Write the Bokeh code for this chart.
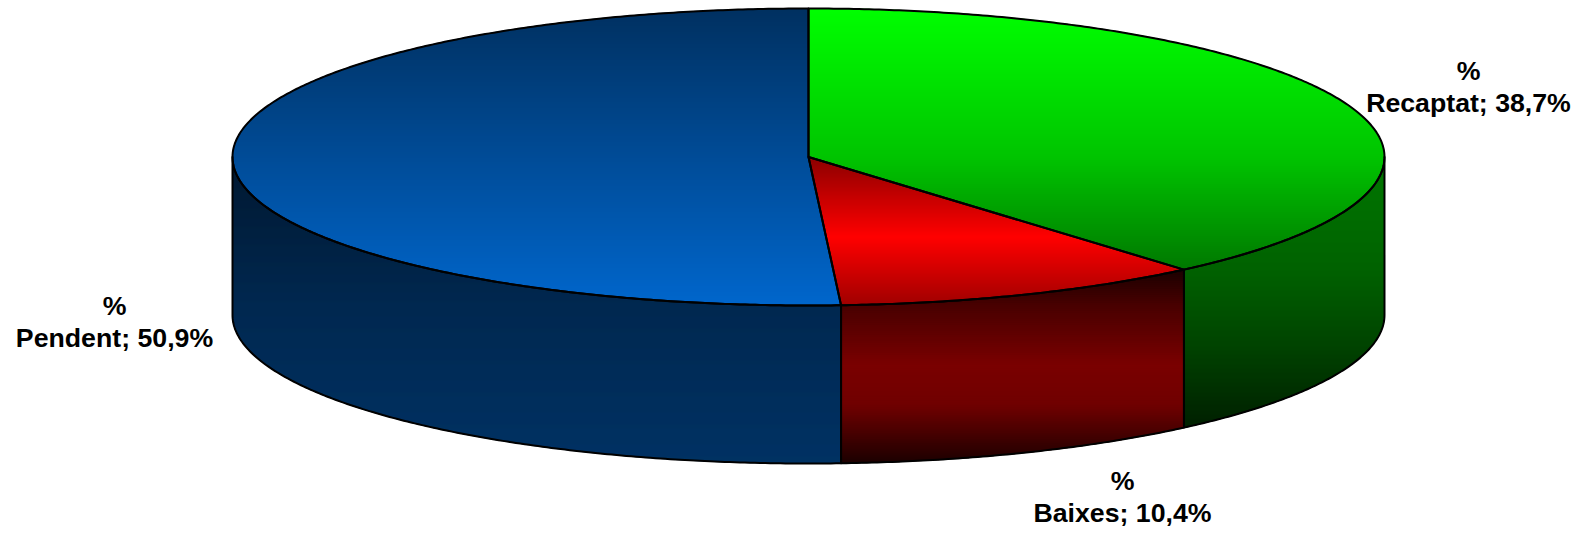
import numpy as np
from bokeh.plotting import figure
from bokeh.models import Range1d, ColumnDataSource
from bokeh.embed import file_html
from bokeh.resources import INLINE
from bokeh.core.properties import value

# ---------------- data ----------------
categories = ["Recaptat", "Baixes", "Pendent"]
shares = [38.7, 10.4, 50.9]
label_prefix = "%"

# ---------------- styling / layout ----------------
# gradient stops (absolute y in pixels, colour) for top and side faces
TOP_STOPS = {
    "Recaptat": [(8, "#00ff00"), (157, "#00c400"), (270, "#007800")],
    "Baixes": [(157, "#8b0000"), (237, "#ff0000"), (305, "#a00000")],
    "Pendent": [(8, "#003060"), (160, "#004c98"), (305, "#0066cc")],
}
SIDE_STOPS = {
    "Recaptat": [(157, "#007800"), (270, "#006200"), (340, "#004600"), (427, "#002000")],
    "Baixes": [(269, "#1a0000"), (305, "#480000"), (365, "#7a0000"), (405, "#700000"), (463, "#1c0000")],
    "Pendent": [(157, "#001830"), (305, "#002850"), (464, "#003264")],
}
LABEL_POS = {"Recaptat": (1468, 70), "Baixes": (1122, 480), "Pendent": (114, 305)}
LINE_GAP = 32

CX, CY, RX, RY, DEPTH = 808.0, 156.5, 576.0, 148.5, 158.0
W, H = 1583, 535


def rim(a, dy=0.0):
    return CX + RX * np.sin(a), CY - RY * np.cos(a) + dy


def arc(a0, a1, dy=0.0):
    n = max(4, int(abs(a1 - a0) / (2 * np.pi) * 720))
    t = np.linspace(a0, a1, n)
    x, y = rim(t, dy)
    return list(zip(x, y))


def hex2rgb(h):
    h = h.lstrip("#")
    return np.array([int(h[i:i + 2], 16) for i in (0, 2, 4)], dtype=float)


def grad_color(stops, y):
    ys = [s[0] for s in stops]
    cs = [hex2rgb(s[1]) for s in stops]
    if y <= ys[0]:
        c = cs[0]
    elif y >= ys[-1]:
        c = cs[-1]
    else:
        for i in range(len(ys) - 1):
            if ys[i] <= y <= ys[i + 1]:
                f = (y - ys[i]) / (ys[i + 1] - ys[i])
                c = cs[i] * (1 - f) + cs[i + 1] * f
                break
    return "#%02x%02x%02x" % tuple(int(round(v)) for v in c)


def clip(poly, yc, keep_greater):
    out = []
    n = len(poly)
    for i in range(n):
        p, q = poly[i], poly[(i + 1) % n]
        pin = (p[1] >= yc) if keep_greater else (p[1] <= yc)
        qin = (q[1] >= yc) if keep_greater else (q[1] <= yc)
        if pin:
            out.append(p)
        if pin != qin:
            f = (yc - p[1]) / (q[1] - p[1])
            out.append((p[0] + f * (q[0] - p[0]), yc))
    return out


def bands(poly, stops, step=2.0):
    ys = [p[1] for p in poly]
    y0, y1 = min(ys), max(ys)
    res = []
    y = y0
    while y < y1:
        yb = min(y + step, y1)
        piece = clip(clip(poly, y, True), yb, False)
        if len(piece) >= 3:
            res.append(([p[0] for p in piece], [p[1] for p in piece], grad_color(stops, (y + yb) / 2)))
        y = yb
    return res


total = sum(shares)
angles = []
acc = 0.0
for s in shares:
    a0 = acc / total * 2 * np.pi
    acc += s
    a1 = acc / total * 2 * np.pi
    angles.append((a0, a1))

side_faces, top_faces = [], []
for cat, (a0, a1) in zip(categories, angles):
    top_faces.append((cat, [(CX, CY)] + arc(a0, a1)))
    b0, b1 = max(a0, np.pi / 2), min(a1, 3 * np.pi / 2)
    if b1 > b0:
        poly = arc(b0, b1) + arc(b1, b0, DEPTH)
        side_faces.append((cat, poly))

p = figure(width=W, height=H, x_range=Range1d(0, W), y_range=Range1d(H, 0),
           output_backend="svg", toolbar_location=None, min_border=0)
p.axis.visible = False
p.grid.visible = False
p.outline_line_color = None
p.background_fill_color = "white"
p.border_fill_color = "white"

fx, fy, fc = [], [], []
for cat, poly in side_faces:
    for bx, by, c in bands(poly, SIDE_STOPS[cat]):
        fx.append(bx); fy.append(by); fc.append(c)
for cat, poly in top_faces:
    for bx, by, c in bands(poly, TOP_STOPS[cat]):
        fx.append(bx); fy.append(by); fc.append(c)
p.patches(xs="xs", ys="ys", fill_color="c", line_color="c", line_width=1,
          source=ColumnDataSource(dict(xs=fx, ys=fy, c=fc)))

ox = [[q[0] for q in poly] for _, poly in side_faces] + [[q[0] for q in poly] for _, poly in top_faces]
oy = [[q[1] for q in poly] for _, poly in side_faces] + [[q[1] for q in poly] for _, poly in top_faces]
p.patches(xs=ox, ys=oy, fill_alpha=0, line_color="black", line_width=2, line_join="round")

tx, ty, tt = [], [], []
for cat, s in zip(categories, shares):
    x, y = LABEL_POS[cat]
    tx += [x, x]
    ty += [y, y + LINE_GAP]
    tt += [label_prefix, f"{cat}; {s:.1f}%".replace(".", ",")]
p.text(x=tx, y=ty, text=tt, text_font=value("Liberation Sans"), text_font_style="bold",
       text_font_size="26.7px", text_align="center", text_baseline="alphabetic", text_color="black")

open("out.html", "w").write(file_html(p, INLINE))
